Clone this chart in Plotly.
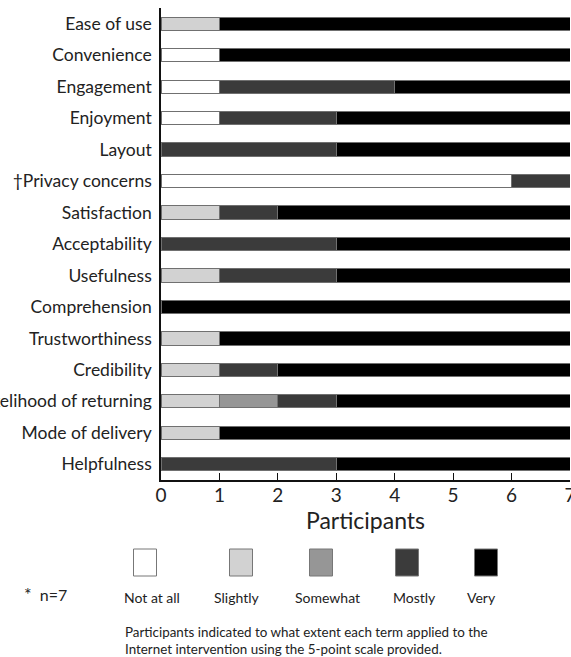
import plotly.graph_objects as go

categories = ["Ease of use", "Convenience", "Engagement", "Enjoyment", "Layout",
              "\u2020Privacy concerns", "Satisfaction", "Acceptability", "Usefulness",
              "Comprehension", "Trustworthiness", "Credibility", "Likelihood of returning",
              "Mode of delivery", "Helpfulness"]
levels = ["Not at all", "Slightly", "Somewhat", "Mostly", "Very"]
not_at_all = [0, 1, 1, 1, 0, 6, 0, 0, 0, 0, 0, 0, 0, 0, 0]
slightly   = [1, 0, 0, 0, 0, 0, 1, 0, 1, 0, 1, 1, 1, 1, 0]
somewhat   = [0, 0, 0, 0, 0, 0, 0, 0, 0, 0, 0, 0, 1, 0, 0]
mostly     = [0, 0, 3, 2, 3, 1, 1, 3, 2, 0, 0, 1, 1, 0, 3]
very       = [6, 6, 3, 4, 4, 0, 5, 4, 4, 7, 6, 5, 4, 6, 4]
series = [not_at_all, slightly, somewhat, mostly, very]
colors = ["#ffffff", "#d2d2d2", "#969696", "#3b3b3b", "#000000"]
x_ticks = [0, 1, 2, 3, 4, 5, 6, 7]
n_note = "<span style='font-size:18px'>*</span>  n=7"
caption = ("Participants indicated to what extent each term applied to the<br>"
           "Internet intervention using the 5-point scale provided.")

FONT = "Lato"
W, H = 571, 657
L, R, T, B = 161, 1, 8, 177
pw, ph = W - L - R, H - T - B

def px(x):
    return (x - L) / pw

def py(y):
    return (H - B - y) / ph

fig = go.Figure()
for name, vals, col in zip(levels, series, colors):
    fig.add_trace(go.Bar(
        y=categories, x=[v if v else None for v in vals], name=name,
        orientation="h", marker=dict(color=col, line=dict(color="#707070", width=1)),
        showlegend=False))

shapes = []
annotations = []
sq_cx = [145, 241, 321, 407, 486]
lab_cx = [152, 236, 327, 414, 481]
for i, (name, col) in enumerate(zip(levels, colors)):
    shapes.append(dict(type="rect", xref="paper", yref="paper",
                       x0=px(sq_cx[i] - 11.5), x1=px(sq_cx[i] + 11.5),
                       y0=py(576), y1=py(549),
                       fillcolor=col, line=dict(color="#777777", width=1)))
    annotations.append(dict(xref="paper", yref="paper", x=px(lab_cx[i]), y=py(597),
                            text=name, showarrow=False, xanchor="center", yanchor="middle",
                            font=dict(family=FONT, size=14, color="#222")))
annotations.append(dict(xref="paper", yref="paper", x=px(22), y=py(594), text=n_note,
                        showarrow=False, xanchor="left", yanchor="middle",
                        font=dict(family=FONT, size=16, color="#222")))
annotations.append(dict(xref="paper", yref="paper", x=px(123), y=py(640), text=caption,
                        showarrow=False, xanchor="left", yanchor="middle", align="left",
                        font=dict(family=FONT, size=13.4, color="#222")))

fig.update_layout(
    width=W, height=H, barmode="stack", bargap=0.58,
    margin=dict(l=L, r=R, t=T, b=B, autoexpand=False),
    paper_bgcolor="white", plot_bgcolor="white",
    font=dict(family=FONT, color="#222"),
    shapes=shapes, annotations=annotations,
    xaxis=dict(range=[0, 7], tickvals=x_ticks, ticks="inside", ticklen=7,
               tickcolor="#111", showgrid=False, zeroline=False,
               showline=True, linecolor="#111", linewidth=1.5,
               ticklabeloverflow="allow", ticklabelstandoff=-3,
               tickfont=dict(family=FONT, size=19, color="#222"),
               title=dict(text="Participants", font=dict(family=FONT, size=23, color="#222"),
                          standoff=8),
               automargin=False),
    yaxis=dict(categoryorder="array", categoryarray=categories, autorange="reversed",
               showgrid=False, zeroline=False, showline=True, linecolor="#111",
               linewidth=1.5, ticks="", ticklabelstandoff=4,
               tickfont=dict(family=FONT, size=17.5, color="#222"), automargin=False),
)
fig.write_html("out.html", config={"displayModeBar": False},
               post_script="document.body.style.margin='0';document.body.style.overflow='hidden';")
